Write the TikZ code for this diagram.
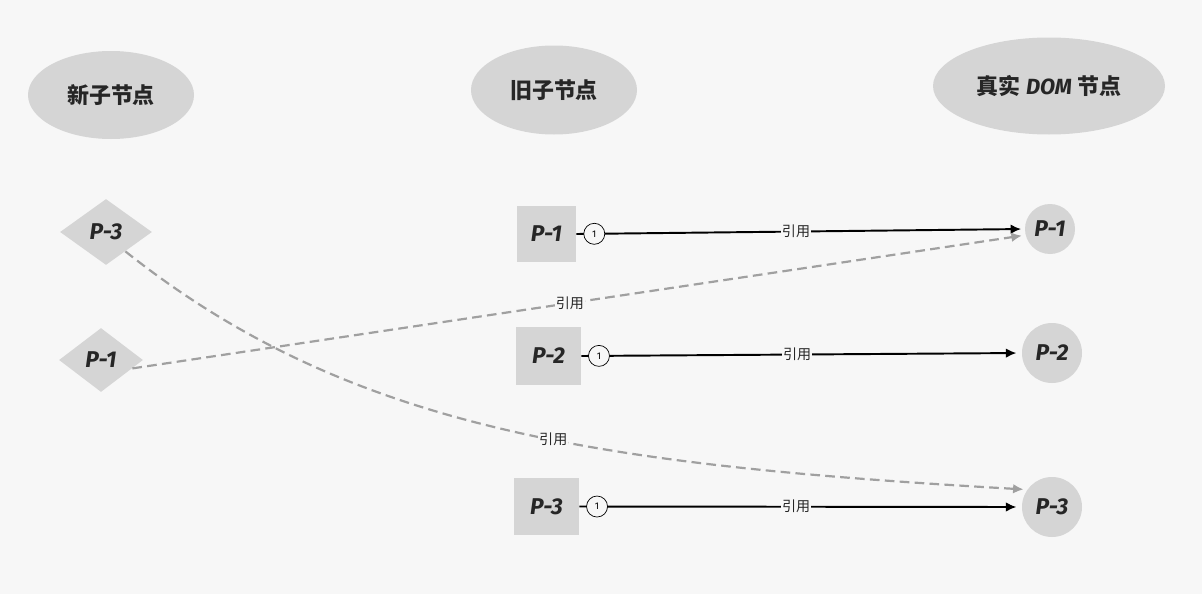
\documentclass[tikz,border=0pt]{standalone}
\usepackage{fontspec}
\usepackage{xcolor}
\usepackage{tikz}
\setmainfont{Fira Sans}
\newfontfamily\cjk{Noto Sans CJK SC}
\usetikzlibrary{shapes.geometric, arrows.meta, positioning}
\definecolor{bgcol}{HTML}{F7F7F7}
\definecolor{boxcol}{HTML}{D5D5D5}
\definecolor{inkcol}{HTML}{262626}
\definecolor{dashcol}{HTML}{A0A0A0}

\begin{document}
\begin{tikzpicture}[-,
                    head node/.style={ellipse,fill=boxcol,text=inkcol,font=\bfseries\fontsize{12.5}{14}\selectfont,inner sep=0pt},
                    main node/.style={fill=boxcol,text=inkcol,font=\bfseries\itshape\fontsize{13}{15}\selectfont,inner sep=0pt},
                    new node/.style={main node,diamond},
                    old node/.style={main node,rectangle},
                    dom node/.style={main node,circle},
                    ref line/.style={-{Latex[length=6pt,width=5.5pt]},line width=1.1pt,black,shorten >=2pt},
                    ref dash/.style={-{Latex[length=6pt,width=5.5pt]},line width=1.25pt,dashcol,dash pattern=on 5.5pt off 3pt,shorten >=2pt},
                    start mark/.style={circle,draw=black,fill=bgcol,thin,inner sep=0pt,minimum size=0.42cm,font=\fontsize{5.5}{6}\selectfont,pos=0.04},
                    ref label/.style={fill=bgcol,inner sep=0.5pt,text=inkcol,font=\cjk\fontsize{8}{9}\selectfont,pos=0.49}]
 \useasboundingbox (0,0) rectangle (24.04,11.88);
 \fill[bgcol] (0,0) rectangle (24.04,11.88);

 \node[head node,minimum width=3.32cm,minimum height=1.76cm] (NewHead) at (2.22,9.98) {\cjk 新子节点};
 \node[head node,minimum width=3.32cm,minimum height=1.78cm] (OldHead) at (11.08,10.08) {\cjk 旧子节点};
 \node[head node,minimum width=4.64cm,minimum height=1.94cm] (DomHead) at (20.98,10.16) {{\cjk 真实} {\itshape DOM} {\cjk 节点}};

 \node[new node,minimum width=1.84cm,minimum height=1.32cm] (New3) at (2.12,7.24) {P-3};
 \node[new node,minimum width=1.68cm,minimum height=1.28cm] (New1) at (2.02,4.68) {P-1};

 \node[old node,minimum width=1.18cm,minimum height=1.12cm] (Old1) at (10.93,7.20) {P-1};
 \node[old node,minimum width=1.30cm,minimum height=1.16cm] (Old2) at (10.97,4.76) {P-2};
 \node[old node,minimum width=1.30cm,minimum height=1.14cm] (Old3) at (10.93,1.75) {P-3};

 \node[dom node,minimum size=1.0cm] (Dom1) at (21.00,7.30) {P-1};
 \node[dom node,minimum size=1.2cm] (Dom2) at (21.04,4.82) {P-2};
 \node[dom node,minimum size=1.2cm] (Dom3) at (21.04,1.74) {P-3};

 \draw[ref line] (Old1.east) -- node[start mark] {1} node[ref label] {引用} (Dom1.west);
 \draw[ref line,shorten >=3pt] (Old2.east) -- node[start mark] {1} node[ref label] {引用} (Dom2.west);
 \draw[ref line,shorten >=3pt] (Old3.east) -- node[start mark] {1} node[ref label] {引用} (Dom3.west);

 \draw[ref dash] (New1.-15) -- node[ref label] {引用} (Dom1.194);
 \draw[ref dash] (New3.-45) .. controls (7.0,3.28) and (12.0,2.58) .. node[ref label,pos=0.56] {引用} (Dom3.145);

\end{tikzpicture}
\end{document}
